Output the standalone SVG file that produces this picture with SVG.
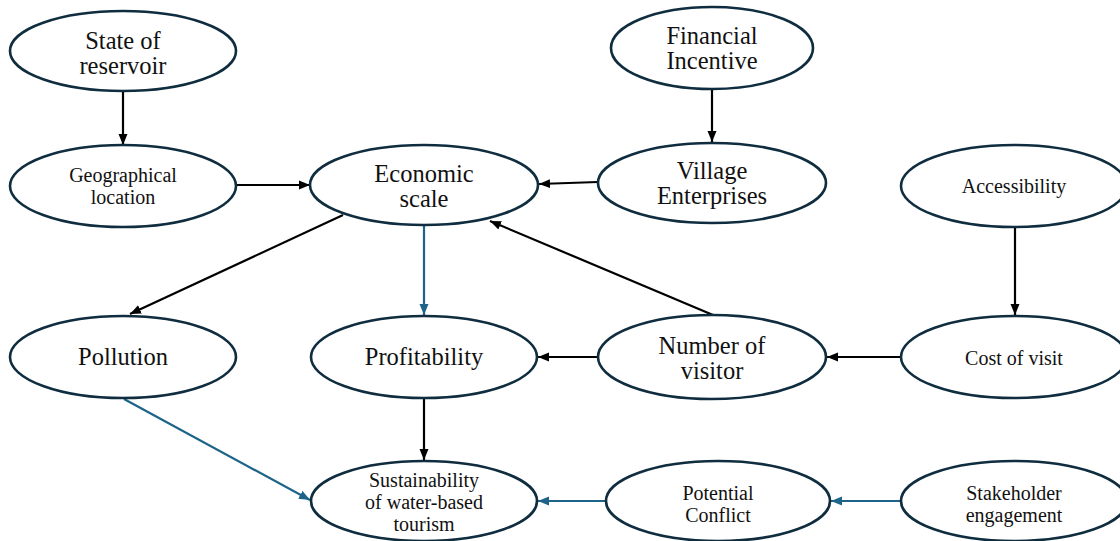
<svg xmlns="http://www.w3.org/2000/svg" width="1120" height="541" viewBox="0 0 1120 541" font-family="Liberation Serif, Times New Roman, serif">
  <style>
    .node ellipse { fill: #ffffff; stroke: #0f2d3f; stroke-width: 2.6; }
    .node text { font-family: "Liberation Serif", "Times New Roman", serif; fill: #111111; text-anchor: middle; }
    .lg { font-size: 24.5px; }
    .sm { font-size: 20px; }
    .edge { fill: none; stroke-width: 2.2; }
    .k { stroke: #000000; }
    .b { stroke: #1d6488; }
  </style>
  <defs>
    <marker id="ah-k" markerUnits="userSpaceOnUse" markerWidth="12" markerHeight="10" refX="11" refY="5" orient="auto">
      <path d="M0,0.5 L11,5 L0,9.5 z" fill="#000000"/>
    </marker>
    <marker id="ah-b" markerUnits="userSpaceOnUse" markerWidth="12" markerHeight="10" refX="11" refY="5" orient="auto">
      <path d="M0,0.5 L11,5 L0,9.5 z" fill="#1d6488"/>
    </marker>
  </defs>

  <rect width="1120" height="541" fill="#ffffff"/>

  <!-- causal links: black = direct effect, blue = effect on sustainability chain -->
  <g id="connectors">
    <path class="edge k" d="M123,92 L123,145" marker-end="url(#ah-k)"/>
    <path class="edge k" d="M712,90 L712,142" marker-end="url(#ah-k)"/>
    <path class="edge k" d="M236,185 L310,185" marker-end="url(#ah-k)"/>
    <path class="edge k" d="M598,182 L539,184" marker-end="url(#ah-k)"/>
    <path class="edge k" d="M343,215 L130,314" marker-end="url(#ah-k)"/>
    <path class="edge b" d="M424,226 L424,315" marker-end="url(#ah-b)"/>
    <path class="edge k" d="M713,315 L490,221" marker-end="url(#ah-k)"/>
    <path class="edge k" d="M1015,228 L1015,315" marker-end="url(#ah-k)"/>
    <path class="edge k" d="M598,357 L538,357" marker-end="url(#ah-k)"/>
    <path class="edge k" d="M901,357 L827,357" marker-end="url(#ah-k)"/>
    <path class="edge k" d="M424,399 L424,460" marker-end="url(#ah-k)"/>
    <path class="edge b" d="M124,399 L310,500" marker-end="url(#ah-b)"/>
    <path class="edge b" d="M606,501 L538,501" marker-end="url(#ah-b)"/>
    <path class="edge b" d="M901,501 L831,501" marker-end="url(#ah-b)"/>
  </g>

  <g id="state-of-reservoir" class="node">
    <ellipse cx="123" cy="51" rx="113" ry="40"/>
    <text class="lg" x="123" y="49">State of</text>
    <text class="lg" x="123" y="74">reservoir</text>
  </g>

  <g id="financial-incentive" class="node">
    <ellipse cx="712" cy="48" rx="101" ry="41"/>
    <text class="lg" x="712" y="44">Financial</text>
    <text class="lg" x="712" y="69">Incentive</text>
  </g>

  <g id="geographical-location" class="node">
    <ellipse cx="123" cy="186" rx="113" ry="41"/>
    <text class="sm" x="123" y="182">Geographical</text>
    <text class="sm" x="123" y="204">location</text>
  </g>

  <g id="economic-scale" class="node">
    <ellipse cx="424" cy="185" rx="114" ry="40"/>
    <text class="lg" x="424" y="182">Economic</text>
    <text class="lg" x="424" y="207">scale</text>
  </g>

  <g id="village-enterprises" class="node">
    <ellipse cx="712" cy="183" rx="114" ry="40"/>
    <text class="lg" x="712" y="179">Village</text>
    <text class="lg" x="712" y="204">Enterprises</text>
  </g>

  <g id="accessibility" class="node">
    <ellipse cx="1014" cy="186" rx="113" ry="41"/>
    <text class="sm" x="1014" y="193">Accessibility</text>
  </g>

  <g id="pollution" class="node">
    <ellipse cx="123" cy="357" rx="113" ry="41"/>
    <text class="lg" x="123" y="365">Pollution</text>
  </g>

  <g id="profitability" class="node">
    <ellipse cx="424" cy="357" rx="113" ry="41"/>
    <text class="lg" x="424" y="365">Profitability</text>
  </g>

  <g id="number-of-visitor" class="node">
    <ellipse cx="712" cy="357" rx="114" ry="42"/>
    <text class="lg" x="712" y="354">Number of</text>
    <text class="lg" x="712" y="379">visitor</text>
  </g>

  <g id="cost-of-visit" class="node">
    <ellipse cx="1014" cy="357" rx="113" ry="41"/>
    <text class="sm" x="1014" y="365">Cost of visit</text>
  </g>

  <g id="sustainability" class="node">
    <ellipse cx="424" cy="501" rx="113" ry="40"/>
    <text class="sm" x="424" y="487">Sustainability</text>
    <text class="sm" x="424" y="509">of water-based</text>
    <text class="sm" x="424" y="531">tourism</text>
  </g>

  <g id="potential-conflict" class="node">
    <ellipse cx="718" cy="501" rx="112" ry="40"/>
    <text class="sm" x="718" y="500">Potential</text>
    <text class="sm" x="718" y="522">Conflict</text>
  </g>

  <g id="stakeholder-engagement" class="node">
    <ellipse cx="1014" cy="501" rx="113" ry="40"/>
    <text class="sm" x="1014" y="500">Stakeholder</text>
    <text class="sm" x="1014" y="522">engagement</text>
  </g>
</svg>
